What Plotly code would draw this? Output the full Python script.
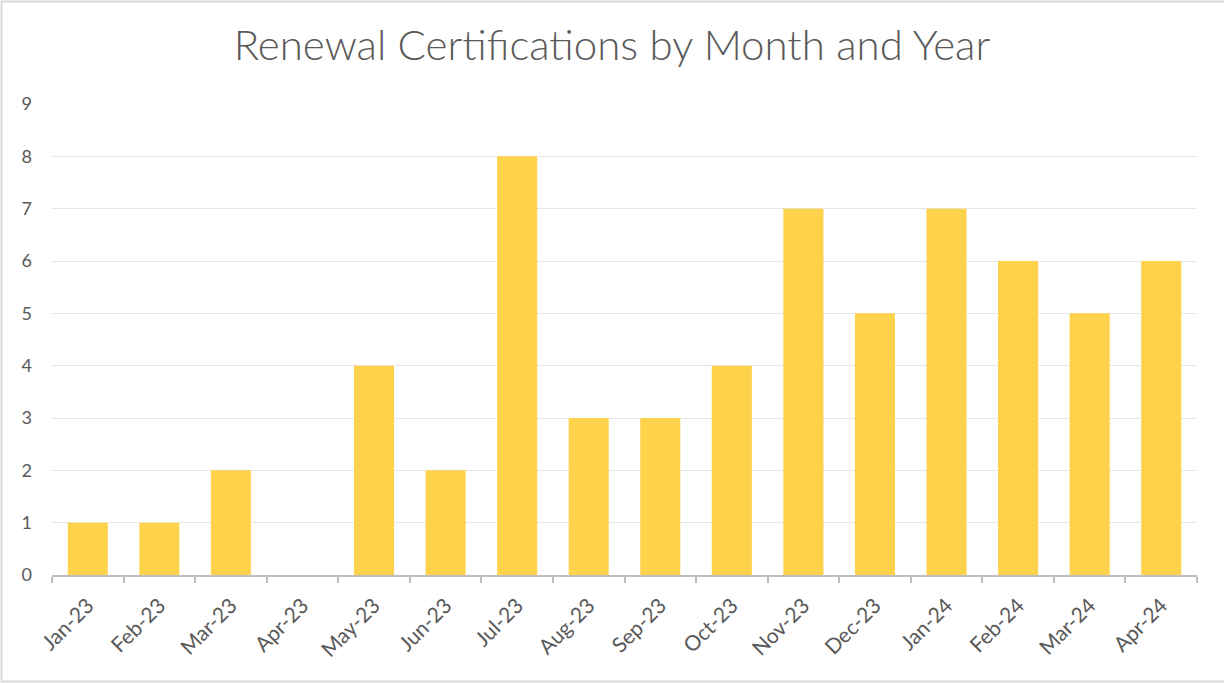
import plotly.graph_objects as go

months = ["Jan-23", "Feb-23", "Mar-23", "Apr-23", "May-23", "Jun-23", "Jul-23", "Aug-23",
          "Sep-23", "Oct-23", "Nov-23", "Dec-23", "Jan-24", "Feb-24", "Mar-24", "Apr-24"]
counts = [1, 1, 2, 0, 4, 2, 8, 3, 3, 4, 7, 5, 7, 6, 5, 6]
y_ticks = list(range(0, 10))

W, H = 1224, 683
ml, mr, mt, mb = 52, 27, 104, 108

fig = go.Figure(go.Bar(
    x=months, y=counts,
    marker=dict(color="#FFD24C", line=dict(width=0)),
    width=0.56,
))

fig.update_layout(
    width=W, height=H,
    margin=dict(l=ml, r=mr, t=mt, b=mb),
    paper_bgcolor="white", plot_bgcolor="white",
    font=dict(family="Lato, Carlito, sans-serif", color="#595959"),
    title=dict(text="Renewal Certifications by Month and Year", x=0.5, xanchor="center",
               y=1 - 45 / H, yanchor="middle",
               font=dict(size=42, color="#595959", weight=300)),
    showlegend=False,
)
fig.update_xaxes(
    type="category", tickson="boundaries", ticks="outside", ticklen=6, tickwidth=2,
    tickcolor="#BFBFBF", showline=True, linecolor="#BFBFBF", linewidth=2,
    tickangle=-45, tickfont=dict(size=21, color="#595959"), showgrid=False,
    ticklabelstandoff=8,
)
fig.update_yaxes(
    range=[0, 9], tickvals=y_ticks, showgrid=True, gridcolor="#E6E6E6", gridwidth=1,
    zeroline=False, showline=False, tickfont=dict(size=18, color="#595959"), ticks="",
    ticklabelstandoff=19,
)
pw = W - ml - mr
ph = H - mt - mb
fig.add_shape(type="rect", xref="paper", yref="paper",
              x0=-(ml - 1.5) / pw, x1=1 + (mr + 2) / pw,
              y0=-(mb - 1.5) / ph, y1=1 + (mt - 1.5) / ph,
              line=dict(color="#D9D9D9", width=2), layer="below")
fig.write_html("out.html", config={"displayModeBar": False},
               post_script="document.body.style.margin='0';document.body.style.overflow='hidden';")
